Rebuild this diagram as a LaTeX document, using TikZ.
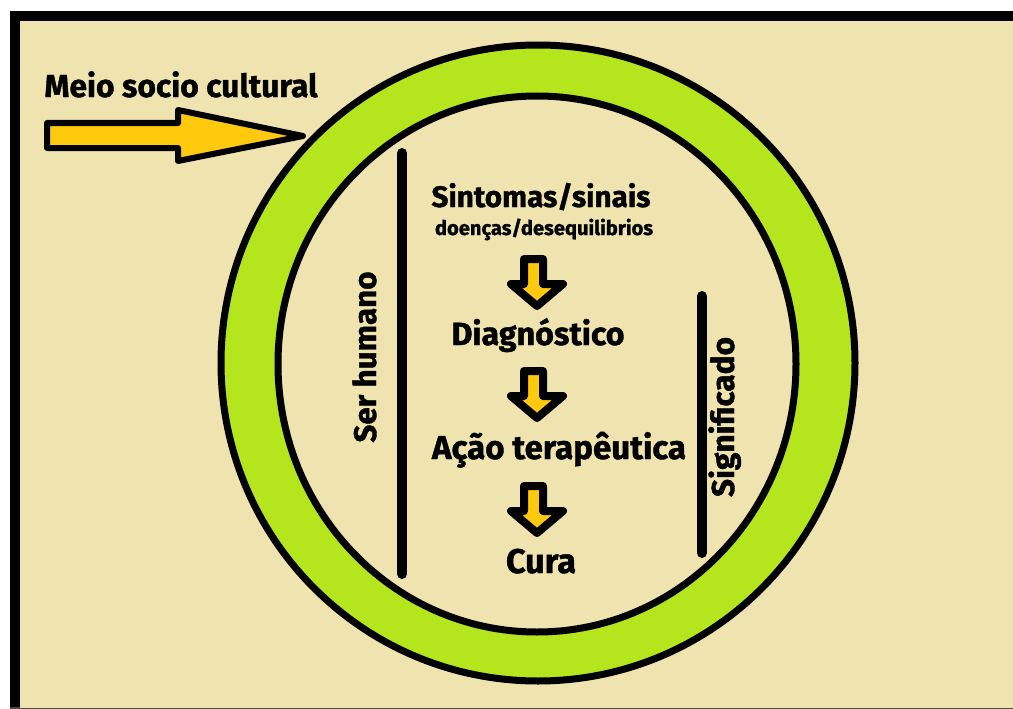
\documentclass[tikz,border=0pt]{standalone}
\usepackage{fontspec}
\setmainfont{Fira Sans}[BoldFeatures={FakeBold=1.2}]
\usepackage{graphicx}
\definecolor{bgtan}{HTML}{EFE4B0}
\definecolor{lime}{HTML}{B5E61D}
\definecolor{amber}{HTML}{FFC90E}
\definecolor{rim}{HTML}{4A4A3C}
\tikzset{
  txt/.style={inner sep=0pt, outer sep=0pt, font=\bfseries, text=black},
  ring/.style={draw=black, line width=7pt},
  bar/.style={draw=black, line width=10pt, line cap=round},
  blockarrow/.style={draw=black, fill=amber, line join=round},
}
% text scaled to a given width
\newcommand{\fitw}[2]{\resizebox{#1pt}{!}{#2}}
% downward block arrow whose top centre is at (#1)
\newcommand{\stepdown}[1]{%
  \draw[blockarrow, line width=8pt, shift={(#1)}]
    (-13,0) -- (6,0) -- (6,25) -- (26,25) -- (0,47) -- (-26,25) -- (-13,25) -- cycle;}
\begin{document}
\begin{tikzpicture}[x=1pt, y=-1pt]
  \useasboundingbox (0,0) rectangle (1013,709);
  % page and frame
  \fill[white] (0,0) rectangle (1013,709);
  \fill[rim] (10,11) rectangle (1013,709);
  \fill[black] (10,11) rectangle (1013,707);
  \fill[bgtan] (20,21) rectangle (1013,707.5);

  % green ring
  \draw[ring, fill=lime] (538,363) ellipse [x radius=317, y radius=318];
  \draw[ring, fill=bgtan] (537,364) ellipse [x radius=259, y radius=268];

  % incoming arrow
  \coordinate (tip) at (303,136);
  \draw[blockarrow, line width=6pt]
    (47,123) -- (178,123) -- (178,110) -- (tip) -- (178,161) -- (178,148) -- (47,148) -- cycle;
  \node[txt, anchor=base] (meio) at (181,97) {\fitw{273}{Meio socio cultural}};

  % side bars
  \draw[bar] (402,153) -- (402,574);
  \draw[bar] (702,296) -- (702,553);
  \node[txt, anchor=base, rotate=90] (ser) at (376,357) {\fitw{171}{Ser humano}};
  \node[txt, anchor=base, rotate=90] (sig) at (734,417) {\fitw{160}{Significado}};

  % central sequence
  \node[txt, anchor=base] (sint) at (541,207) {\fitw{219}{Sintomas/sinais}};
  \node[txt, anchor=base] (doen) at (544,235) {\fitw{218}{doenças/desequilibrios}};
  \node[txt, anchor=base] (diag) at (538,345) {\fitw{173}{Diagnóstico}};
  \node[txt, anchor=base] (acao) at (559,459) {\fitw{254}{Ação terapêutica}};
  \node[txt, anchor=base] (cura) at (541,573) {\fitw{70}{Cura}};

  \stepdown{537,259}
  \stepdown{537,371}
  \stepdown{537,486}
\end{tikzpicture}
\end{document}
